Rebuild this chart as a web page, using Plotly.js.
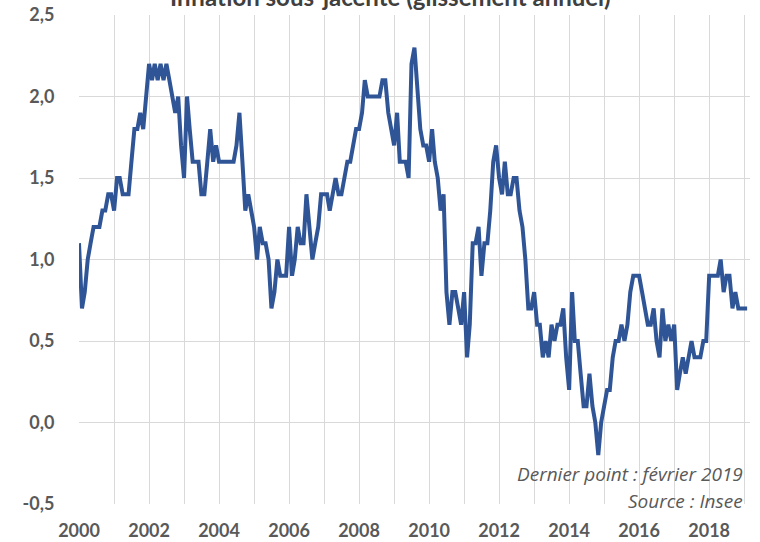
<!DOCTYPE html>
<html>
<head>
<meta charset="utf-8">
<script src="https://cdn.plot.ly/plotly-3.0.1.min.js"></script>
<style>html,body{margin:0;padding:0;background:#fff;}#chart{width:760px;height:542px;}</style>
</head>
<body>
<div id="chart"></div>
<script>
// Inflation sous-jacente (glissement annuel, %), monthly, Jan 2000 - Feb 2019
const startYear = 2000;
const core2000 = [1.1, 0.7, 0.8, 1.0, 1.1, 1.2, 1.2, 1.2, 1.3, 1.3, 1.4, 1.4];
const core2001 = [1.3, 1.5, 1.5, 1.4, 1.4, 1.4, 1.6, 1.8, 1.8, 1.9, 1.8, 2.0];
const core2002 = [2.2, 2.1, 2.2, 2.1, 2.2, 2.1, 2.2, 2.1, 2.0, 1.9, 2.0, 1.7];
const core2003 = [1.5, 2.0, 1.8, 1.6, 1.6, 1.6, 1.4, 1.4, 1.6, 1.8, 1.6, 1.7];
const core2004 = [1.6, 1.6, 1.6, 1.6, 1.6, 1.6, 1.7, 1.9, 1.6, 1.3, 1.4, 1.3];
const core2005 = [1.2, 1.0, 1.2, 1.1, 1.1, 1.0, 0.7, 0.8, 1.0, 0.9, 0.9, 0.9];
const core2006 = [1.2, 0.9, 1.0, 1.2, 1.1, 1.1, 1.4, 1.2, 1.0, 1.1, 1.2, 1.4];
const core2007 = [1.4, 1.4, 1.3, 1.4, 1.5, 1.4, 1.4, 1.5, 1.6, 1.6, 1.7, 1.8];
const core2008 = [1.8, 1.9, 2.1, 2.0, 2.0, 2.0, 2.0, 2.0, 2.1, 2.1, 1.9, 1.8];
const core2009 = [1.7, 1.9, 1.6, 1.6, 1.6, 1.5, 2.2, 2.3, 2.0, 1.8, 1.7, 1.7];
const core2010 = [1.6, 1.8, 1.6, 1.5, 1.3, 1.4, 0.8, 0.6, 0.8, 0.8, 0.7, 0.6];
const core2011 = [0.8, 0.4, 0.6, 1.1, 1.1, 1.2, 0.9, 1.1, 1.1, 1.3, 1.6, 1.7];
const core2012 = [1.5, 1.4, 1.6, 1.4, 1.4, 1.5, 1.5, 1.3, 1.2, 1.0, 0.7, 0.7];
const core2013 = [0.8, 0.6, 0.6, 0.4, 0.5, 0.4, 0.6, 0.5, 0.6, 0.6, 0.7, 0.4];
const core2014 = [0.2, 0.8, 0.5, 0.5, 0.3, 0.1, 0.1, 0.3, 0.1, 0.0, -0.2, 0.0];
const core2015 = [0.1, 0.2, 0.2, 0.4, 0.5, 0.5, 0.6, 0.5, 0.6, 0.8, 0.9, 0.9];
const core2016 = [0.9, 0.8, 0.7, 0.6, 0.6, 0.7, 0.5, 0.4, 0.7, 0.5, 0.6, 0.5];
const core2017 = [0.6, 0.2, 0.3, 0.4, 0.3, 0.4, 0.5, 0.4, 0.4, 0.4, 0.5, 0.5];
const core2018 = [0.9, 0.9, 0.9, 0.9, 1.0, 0.8, 0.9, 0.9, 0.7, 0.8, 0.7, 0.7];
const core2019 = [0.7, 0.7];

const yTickValues = [-0.5, 0.0, 0.5, 1.0, 1.5, 2.0, 2.5];
const titleText = 'Inflation sous-jacente (glissement annuel)';
const noteLastPoint = 'Dernier point : février 2019';
const noteSource = 'Source : Insee';

const series = [core2000, core2001, core2002, core2003, core2004, core2005, core2006,
  core2007, core2008, core2009, core2010, core2011, core2012, core2013, core2014,
  core2015, core2016, core2017, core2018, core2019];

const dates = [];
const values = [];
series.forEach((arr, i) => {
  arr.forEach((v, m) => {
    dates.push((startYear + i) + '-' + String(m + 1).padStart(2, '0') + '-01');
    values.push(v);
  });
});

const FONT = 'Lato, "Open Sans", "DejaVu Sans", sans-serif';
const NOTE_FONT = '"Open Sans", Lato, "DejaVu Sans", sans-serif';
const GRID = '#d9d9d9';
const TXT = '#595959';

const trace = {
  x: dates, y: values, type: 'scatter', mode: 'lines',
  line: {color: '#2F5597', width: 4}, hoverinfo: 'x+y'
};

const layout = {
  width: 760, height: 542,
  margin: {l: 79, r: 10, t: 15, b: 38, pad: 0},
  paper_bgcolor: '#ffffff', plot_bgcolor: '#ffffff',
  showlegend: false,
  separators: ', ',
  xaxis: {
    type: 'date',
    range: ['2000-01-01', '2019-03-03'],
    tick0: '2000-01-01', dtick: 'M24', tickformat: '%Y',
    showgrid: true, gridcolor: GRID, gridwidth: 1,
    minor: {dtick: 'M12', showgrid: true, gridcolor: GRID, gridwidth: 1, ticks: ''},
    ticks: 'outside', ticklen: 10, tickcolor: 'rgba(0,0,0,0)',
    tickfont: {family: FONT, size: 18, color: TXT, weight: 'bold'},
    zeroline: false, showline: false
  },
  yaxis: {
    range: [-0.5, 2.5],
    tickmode: 'array',
    tickvals: yTickValues,
    ticktext: yTickValues.map(v => v.toFixed(1).replace('.', ',')),
    showgrid: true, gridcolor: GRID, gridwidth: 1,
    ticks: 'outside', ticklen: 20, tickcolor: 'rgba(0,0,0,0)',
    tickfont: {family: FONT, size: 18, color: TXT, weight: 'bold'},
    zeroline: false, showline: false
  },
  annotations: [
    {text: titleText, xref: 'paper', yref: 'paper', x: 0.4635, y: 1.0385,
     xanchor: 'center', yanchor: 'middle', showarrow: false,
     font: {family: FONT, size: 24, color: '#404040', weight: 'bold'}},
    {text: noteLastPoint, xref: 'paper', yref: 'paper', x: 0.992, y: 0.0613,
     xanchor: 'right', yanchor: 'middle', showarrow: false,
     font: {family: NOTE_FONT, size: 19, color: TXT, style: 'italic'}},
    {text: noteSource, xref: 'paper', yref: 'paper', x: 0.992, y: 0.0061,
     xanchor: 'right', yanchor: 'middle', showarrow: false,
     font: {family: NOTE_FONT, size: 19, color: TXT, style: 'italic'}}
  ]
};

Plotly.newPlot('chart', [trace], layout, {displayModeBar: false, staticPlot: true});
</script>
</body>
</html>
